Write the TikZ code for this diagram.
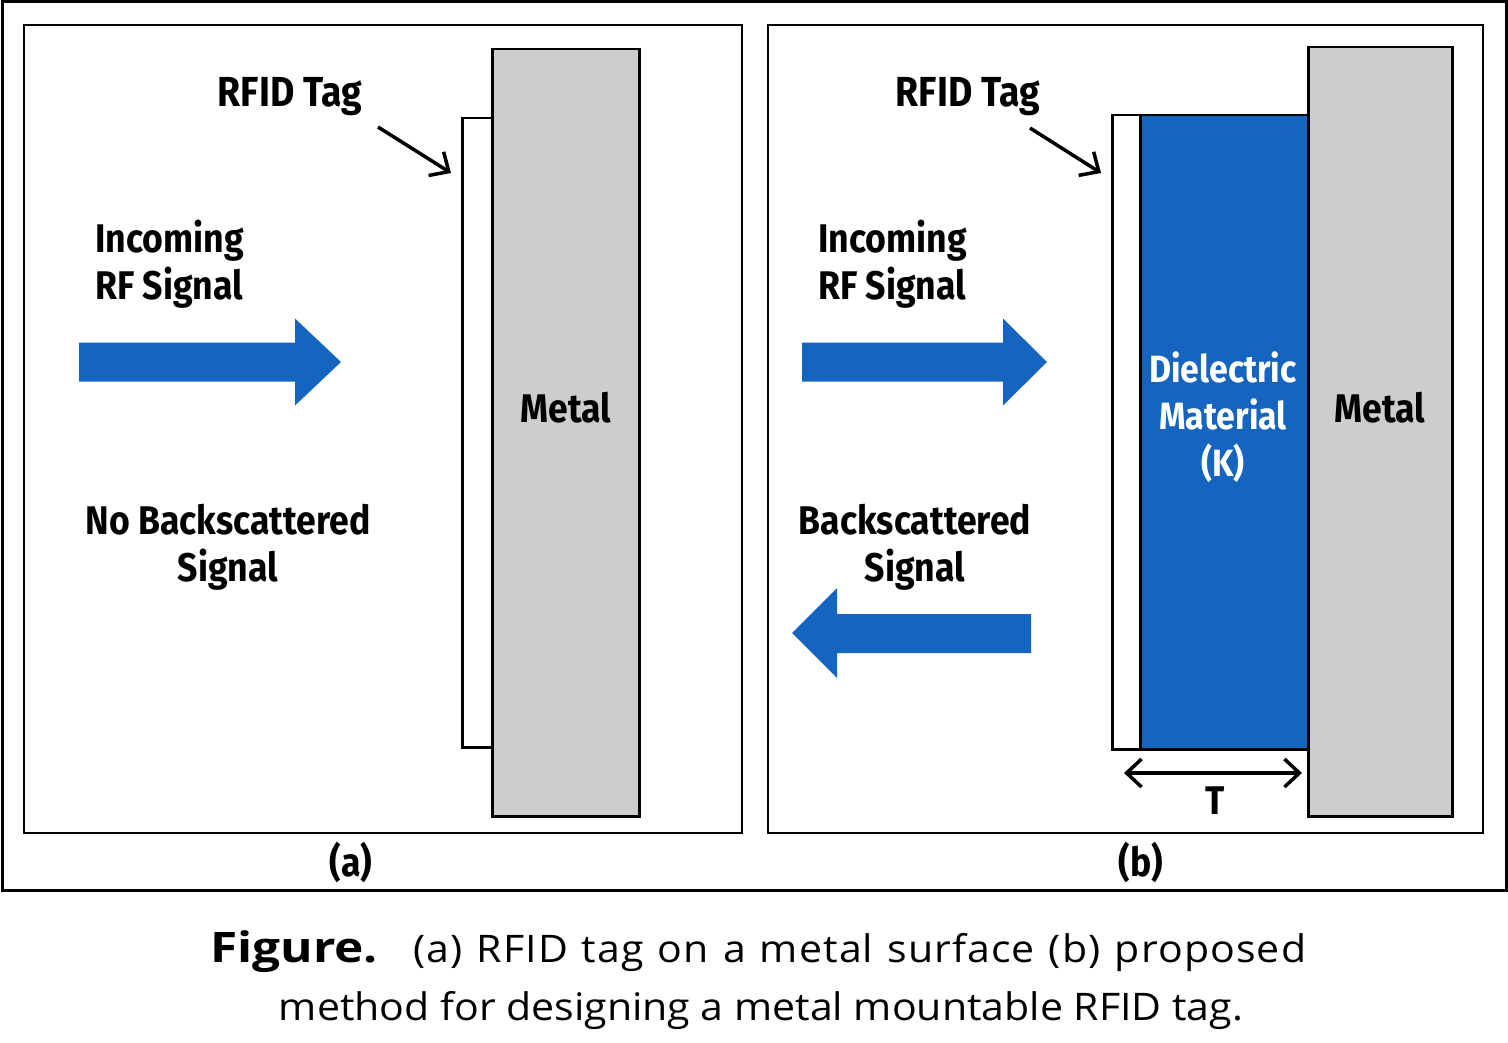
\documentclass[tikz,border=0pt]{standalone}
\usepackage{fontspec}
\setmainfont{Fira Sans}
\newfontfamily\labfont{Fira Sans}[FakeStretch=0.89]
\newfontfamily\capfont{Open Sans}[FakeStretch=1.08]
\newfontfamily\capfontls{Open Sans}[FakeStretch=1.08, LetterSpace=3]
\newfontfamily\figfont{Open Sans}[FakeStretch=1.18]
\usetikzlibrary{arrows.meta}
\definecolor{rfblue}{HTML}{1565C0}
\definecolor{metalgray}{HTML}{CDCDCD}
\tikzset{
  frame/.style={draw=black, line width=2.5pt},
  plate/.style={draw=black, line width=2.5pt, anchor=north west, inner sep=0pt},
  metalbox/.style={plate, fill=metalgray},
  tagbox/.style={plate, fill=white},
  dielbox/.style={plate, fill=rfblue},
  lab/.style={font=\labfont\bfseries\fontsize{40}{47}\selectfont, inner sep=0pt, text=black},
  pointer/.style={draw=black, line width=3.5pt, -{Straight Barb[length=15pt,width=28pt,line width=3.5pt]}},
  dim/.style={draw=black, line width=3.5pt, {Straight Barb[length=15pt,width=28pt,line width=3.5pt]}-{Straight Barb[length=15pt,width=28pt,line width=3.5pt]}},
  bigarrow/.style={fill=rfblue, draw=none},
}
\begin{document}
\begin{tikzpicture}[x=1pt,y=-1pt]
\useasboundingbox (0,0) rectangle (1508,1043);
\fill[white] (0,0) rectangle (1508,1043);
% frames
\draw[frame, line width=3pt] (2,2) rectangle (1506,890);
\draw[frame] (24,25) rectangle (742,833);
\draw[frame] (768,25) rectangle (1483,833);

% ---------- panel (a) ----------
\node[metalbox, minimum width=147pt, minimum height=767pt] (metalA) at (491,48) {};
\node[tagbox, minimum width=30pt, minimum height=629pt] (tagA) at (461,117) {};
\node[lab, font=\labfont\bfseries\fontsize{42}{47}\selectfont] (rfidA) at (290,97) {RFID Tag};
\coordinate (pA1) at (378,127);
\coordinate (pA2) at (451,173);
\draw[pointer] (pA1) -- (pA2);
\node[lab, align=left, anchor=west] (incA) at (95,264) {Incoming\\RF Signal};
\coordinate (aA) at (79,362);
\fill[bigarrow] (aA) ++(0,-19.5) -- ++(216,0) -- ++(0,-24) -- ++(46,43.5) -- ++(-46,43.5) -- ++(0,-24) -- ++(-216,0) -- cycle;
\node[lab, align=center] (noback) at (228,547) {No Backscattered\\Signal};
\node[lab] (metalAtxt) at (566,408) {Metal};
\node[lab] (capa) at (351,862) {(a)};

% ---------- panel (b) ----------
\node[metalbox, minimum width=144pt, minimum height=769pt] (metalB) at (1307,46) {};
\node[dielbox, minimum width=168pt, minimum height=634pt] (diel) at (1139,114) {};
\node[tagbox, minimum width=28pt, minimum height=634pt] (tagB) at (1111,114) {};
\node[lab, font=\labfont\bfseries\fontsize{42}{47}\selectfont] (rfidB) at (968,97) {RFID Tag};
\coordinate (pB1) at (1030,128);
\coordinate (pB2) at (1101,173);
\draw[pointer] (pB1) -- (pB2);
\node[lab, align=left, anchor=west] (incB) at (818,264) {Incoming\\RF Signal};
\coordinate (aB) at (802,362);
\fill[bigarrow] (aB) ++(0,-19.5) -- ++(201,0) -- ++(0,-24) -- ++(44,43.5) -- ++(-44,43.5) -- ++(0,-24) -- ++(-201,0) -- cycle;
\node[lab, align=center] (back) at (915,547) {Backscattered\\Signal};
\coordinate (aC) at (792,633);
\fill[bigarrow] (aC) -- ++(45,-45) -- ++(0,26) -- ++(194,0) -- ++(0,39) -- ++(-194,0) -- ++(0,25) -- cycle;
\node[lab, text=white, align=center, font=\labfont\bfseries\fontsize{38}{47}\selectfont] (dieltxt) at (1223,417) {Dielectric\\Material\\(K)};
\node[lab] (metalBtxt) at (1380,408) {Metal};
\coordinate (t1) at (1124,773);
\coordinate (t2) at (1302,773);
\draw[dim] (t1) -- (t2);
\node[lab] (ttxt) at (1215,801) {T};
\node[lab] (capb) at (1141,862) {(b)};

% ---------- caption ----------
\node[font=\figfont\bfseries\fontsize{42}{56}\selectfont, anchor=base west, inner sep=0pt] (figlab) at (210,962) {Figure.};
\node[font=\capfontls\fontsize{38}{56}\selectfont, anchor=base west, inner sep=0pt] (cap1) at (413,962) {\spaceskip=14pt\relax (a) RFID tag on a metal surface (b) proposed};
\node[font=\capfont\fontsize{38}{56}\selectfont, anchor=base, inner sep=0pt] (cap2) at (761,1020) {method for designing a metal mountable RFID tag.};
\end{tikzpicture}
\end{document}
